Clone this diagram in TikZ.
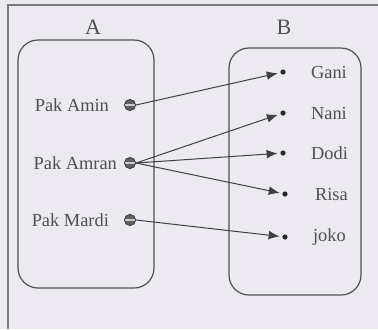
\documentclass[tikz,border=0pt]{standalone}
\usepackage{fontspec}
\setmainfont{Liberation Serif}
\usepackage{tikz}
\usetikzlibrary{positioning,arrows.meta}
\definecolor{paper}{HTML}{ECEAF0}
\definecolor{ink}{HTML}{505050}
\definecolor{frame}{HTML}{7A7A7A}
\tikzset{
    setbox/.style={draw=ink, line width=0.6pt, rounded corners=10pt},
    ldot/.style={circle, draw=ink!70!black, fill=gray!75!black, line width=0.4pt, minimum size=5.6pt, inner sep=0pt,
        path picture={\draw[gray!40, line width=0.6pt] (path picture bounding box.west) -- (path picture bounding box.east);}},
    rdot/.style={circle, fill=ink!50!black, minimum size=2.6pt, inner sep=0pt},
    lbl/.style={text=ink, font=\fontsize{9.2}{10}\selectfont},
    setlbl/.style={text=ink, font=\fontsize{11}{12}\selectfont},
    maparrow/.style={-{Latex[length=5.5pt,width=4.4pt]}, ink!80!black, line width=0.5pt, shorten >=1.2pt}
}
\begin{document}
\begin{tikzpicture}[x=0.5pt, y=-0.5pt]
\useasboundingbox[fill=paper] (0,0) rectangle (378,329);

% Frame
\draw[frame, line width=0.6pt] (8,329) -- (8,5) -- (378,5);

% Sets
\draw[setbox] (18,40) rectangle (154,288);
\draw[setbox] (229,48) rectangle (361,295);
\node[setlbl] (seta) at (93,27) {A};
\node[setlbl] (setb) at (284,27) {B};

% Domain
\node[ldot, label={[lbl, label distance=4pt]left:Pak Amin}] (amin) at (130,105) {};
\node[ldot, label={[lbl, label distance=0pt]left:Pak Amran}] (amran) at (130,163) {};
\node[ldot, label={[lbl, label distance=4pt]left:Pak Mardi}] (mardi) at (130,220) {};

% Codomain
\node[rdot, label={[lbl, label distance=9pt]right:Gani}] (gani) at (283,72) {};
\node[rdot, label={[lbl, label distance=9pt]right:Nani}] (nani) at (283,113) {};
\node[rdot, label={[lbl, label distance=9pt]right:Dodi}] (dodi) at (283,153) {};
\node[rdot, label={[lbl, label distance=10pt]right:Risa}] (risa) at (285,194) {};
\node[rdot, label={[lbl, label distance=9pt]right:joko}] (joko) at (285,237) {};

% Relation
\draw[maparrow] (amin.east) -- (gani);
\draw[maparrow] (amran.east) -- (nani);
\draw[maparrow] (amran.east) -- (dodi);
\draw[maparrow] (amran.east) -- (risa);
\draw[maparrow] (mardi.east) -- (joko);

\end{tikzpicture}
\end{document}
